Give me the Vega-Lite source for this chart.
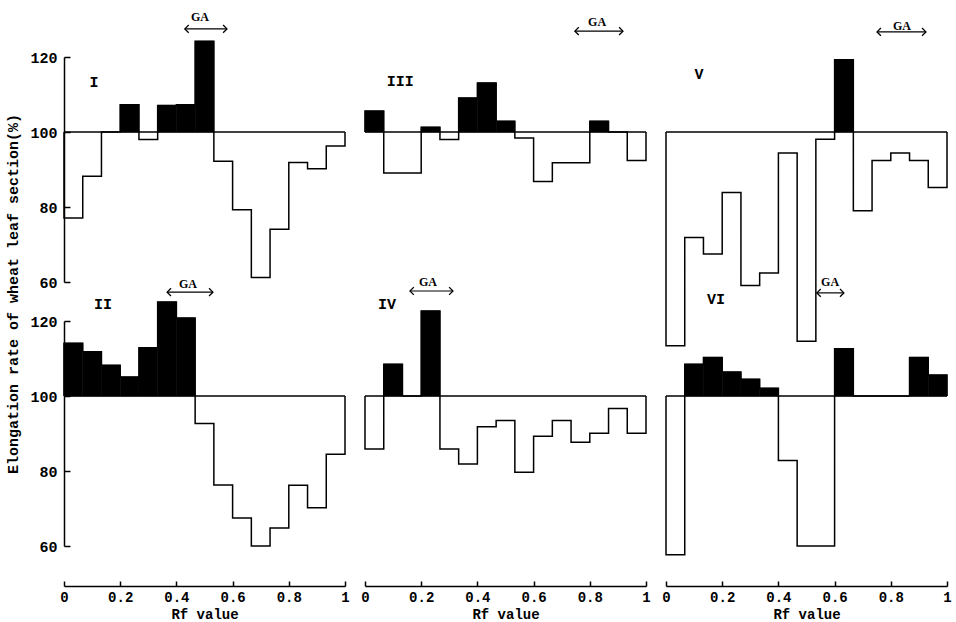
{
  "$schema": "https://vega.github.io/schema/vega-lite/v6.json",
  "background": "white",
  "padding": {"left": 5, "top": 10, "right": 5, "bottom": 0},
  "title": {"text": "Elongation rate of wheat leaf section(%)", "orient": "left", "anchor": "middle", "font": "Liberation Mono", "fontSize": 15, "fontWeight": "bold", "color": "black", "offset": 9, "dx": 22},
  "data": {"values": [
    {"t":"e","r":1,"c":1,"lo":0,"v":100,"i":0},
    {"t":"b","r":1,"c":1,"lo":0,"hi":0.0667,"v":77.1,"i":1},
    {"t":"b","r":1,"c":1,"lo":0.0667,"hi":0.1333,"v":88.2,"i":2},
    {"t":"b","r":1,"c":1,"lo":0.1333,"hi":0.2,"v":100,"i":3},
    {"t":"b","r":1,"c":1,"lo":0.2,"hi":0.2667,"v":107.3,"i":4},
    {"t":"b","r":1,"c":1,"lo":0.2667,"hi":0.3333,"v":98,"i":5},
    {"t":"b","r":1,"c":1,"lo":0.3333,"hi":0.4,"v":107.1,"i":6},
    {"t":"b","r":1,"c":1,"lo":0.4,"hi":0.4667,"v":107.3,"i":7},
    {"t":"b","r":1,"c":1,"lo":0.4667,"hi":0.5333,"v":124.2,"i":8},
    {"t":"b","r":1,"c":1,"lo":0.5333,"hi":0.6,"v":92.2,"i":9},
    {"t":"b","r":1,"c":1,"lo":0.6,"hi":0.6667,"v":79.3,"i":10},
    {"t":"b","r":1,"c":1,"lo":0.6667,"hi":0.7333,"v":61.2,"i":11},
    {"t":"b","r":1,"c":1,"lo":0.7333,"hi":0.8,"v":74.1,"i":12},
    {"t":"b","r":1,"c":1,"lo":0.8,"hi":0.8667,"v":91.9,"i":13},
    {"t":"b","r":1,"c":1,"lo":0.8667,"hi":0.9333,"v":90.2,"i":14},
    {"t":"b","r":1,"c":1,"lo":0.9333,"hi":1,"v":96.3,"i":15},
    {"t":"e","r":1,"c":1,"lo":1,"v":100,"i":16},

    {"t":"e","r":1,"c":2,"lo":0,"v":100,"i":0},
    {"t":"b","r":1,"c":2,"lo":0,"hi":0.0667,"v":105.6,"i":1},
    {"t":"b","r":1,"c":2,"lo":0.0667,"hi":0.1333,"v":89.1,"i":2},
    {"t":"b","r":1,"c":2,"lo":0.1333,"hi":0.2,"v":89.1,"i":3},
    {"t":"b","r":1,"c":2,"lo":0.2,"hi":0.2667,"v":101.3,"i":4},
    {"t":"b","r":1,"c":2,"lo":0.2667,"hi":0.3333,"v":98,"i":5},
    {"t":"b","r":1,"c":2,"lo":0.3333,"hi":0.4,"v":109.1,"i":6},
    {"t":"b","r":1,"c":2,"lo":0.4,"hi":0.4667,"v":113.1,"i":7},
    {"t":"b","r":1,"c":2,"lo":0.4667,"hi":0.5333,"v":102.9,"i":8},
    {"t":"b","r":1,"c":2,"lo":0.5333,"hi":0.6,"v":98.4,"i":9},
    {"t":"b","r":1,"c":2,"lo":0.6,"hi":0.6667,"v":86.8,"i":10},
    {"t":"b","r":1,"c":2,"lo":0.6667,"hi":0.7333,"v":91.8,"i":11},
    {"t":"b","r":1,"c":2,"lo":0.7333,"hi":0.8,"v":91.8,"i":12},
    {"t":"b","r":1,"c":2,"lo":0.8,"hi":0.8667,"v":102.9,"i":13},
    {"t":"b","r":1,"c":2,"lo":0.8667,"hi":0.9333,"v":100,"i":14},
    {"t":"b","r":1,"c":2,"lo":0.9333,"hi":1,"v":92.4,"i":15},
    {"t":"e","r":1,"c":2,"lo":1,"v":100,"i":16},

    {"t":"e","r":1,"c":3,"lo":0,"v":100,"i":0},
    {"t":"b","r":1,"c":3,"lo":0,"hi":0.0667,"v":43,"i":1},
    {"t":"b","r":1,"c":3,"lo":0.0667,"hi":0.1333,"v":71.9,"i":2},
    {"t":"b","r":1,"c":3,"lo":0.1333,"hi":0.2,"v":67.5,"i":3},
    {"t":"b","r":1,"c":3,"lo":0.2,"hi":0.2667,"v":83.9,"i":4},
    {"t":"b","r":1,"c":3,"lo":0.2667,"hi":0.3333,"v":59.1,"i":5},
    {"t":"b","r":1,"c":3,"lo":0.3333,"hi":0.4,"v":62.4,"i":6},
    {"t":"b","r":1,"c":3,"lo":0.4,"hi":0.4667,"v":94.4,"i":7},
    {"t":"b","r":1,"c":3,"lo":0.4667,"hi":0.5333,"v":44.2,"i":8},
    {"t":"b","r":1,"c":3,"lo":0.5333,"hi":0.6,"v":98.1,"i":9},
    {"t":"b","r":1,"c":3,"lo":0.6,"hi":0.6667,"v":119.3,"i":10},
    {"t":"b","r":1,"c":3,"lo":0.6667,"hi":0.7333,"v":79,"i":11},
    {"t":"b","r":1,"c":3,"lo":0.7333,"hi":0.8,"v":92.4,"i":12},
    {"t":"b","r":1,"c":3,"lo":0.8,"hi":0.8667,"v":94.4,"i":13},
    {"t":"b","r":1,"c":3,"lo":0.8667,"hi":0.9333,"v":92.4,"i":14},
    {"t":"b","r":1,"c":3,"lo":0.9333,"hi":1,"v":85.2,"i":15},
    {"t":"e","r":1,"c":3,"lo":1,"v":100,"i":16},

    {"t":"e","r":2,"c":1,"lo":0,"v":100,"i":0},
    {"t":"b","r":2,"c":1,"lo":0,"hi":0.0667,"v":114.1,"i":1},
    {"t":"b","r":2,"c":1,"lo":0.0667,"hi":0.1333,"v":111.8,"i":2},
    {"t":"b","r":2,"c":1,"lo":0.1333,"hi":0.2,"v":108.2,"i":3},
    {"t":"b","r":2,"c":1,"lo":0.2,"hi":0.2667,"v":105.1,"i":4},
    {"t":"b","r":2,"c":1,"lo":0.2667,"hi":0.3333,"v":112.9,"i":5},
    {"t":"b","r":2,"c":1,"lo":0.3333,"hi":0.4,"v":125.1,"i":6},
    {"t":"b","r":2,"c":1,"lo":0.4,"hi":0.4667,"v":120.8,"i":7},
    {"t":"b","r":2,"c":1,"lo":0.4667,"hi":0.5333,"v":92.7,"i":8},
    {"t":"b","r":2,"c":1,"lo":0.5333,"hi":0.6,"v":76.3,"i":9},
    {"t":"b","r":2,"c":1,"lo":0.6,"hi":0.6667,"v":67.5,"i":10},
    {"t":"b","r":2,"c":1,"lo":0.6667,"hi":0.7333,"v":60,"i":11},
    {"t":"b","r":2,"c":1,"lo":0.7333,"hi":0.8,"v":64.8,"i":12},
    {"t":"b","r":2,"c":1,"lo":0.8,"hi":0.8667,"v":76.2,"i":13},
    {"t":"b","r":2,"c":1,"lo":0.8667,"hi":0.9333,"v":70.2,"i":14},
    {"t":"b","r":2,"c":1,"lo":0.9333,"hi":1,"v":84.5,"i":15},
    {"t":"e","r":2,"c":1,"lo":1,"v":100,"i":16},

    {"t":"e","r":2,"c":2,"lo":0,"v":100,"i":0},
    {"t":"b","r":2,"c":2,"lo":0,"hi":0.0667,"v":85.9,"i":1},
    {"t":"b","r":2,"c":2,"lo":0.0667,"hi":0.1333,"v":108.5,"i":2},
    {"t":"b","r":2,"c":2,"lo":0.1333,"hi":0.2,"v":100,"i":3},
    {"t":"b","r":2,"c":2,"lo":0.2,"hi":0.2667,"v":122.7,"i":4},
    {"t":"b","r":2,"c":2,"lo":0.2667,"hi":0.3333,"v":85.9,"i":5},
    {"t":"b","r":2,"c":2,"lo":0.3333,"hi":0.4,"v":81.9,"i":6},
    {"t":"b","r":2,"c":2,"lo":0.4,"hi":0.4667,"v":91.8,"i":7},
    {"t":"b","r":2,"c":2,"lo":0.4667,"hi":0.5333,"v":93.5,"i":8},
    {"t":"b","r":2,"c":2,"lo":0.5333,"hi":0.6,"v":79.7,"i":9},
    {"t":"b","r":2,"c":2,"lo":0.6,"hi":0.6667,"v":89.3,"i":10},
    {"t":"b","r":2,"c":2,"lo":0.6667,"hi":0.7333,"v":93.5,"i":11},
    {"t":"b","r":2,"c":2,"lo":0.7333,"hi":0.8,"v":87.7,"i":12},
    {"t":"b","r":2,"c":2,"lo":0.8,"hi":0.8667,"v":90.1,"i":13},
    {"t":"b","r":2,"c":2,"lo":0.8667,"hi":0.9333,"v":96.7,"i":14},
    {"t":"b","r":2,"c":2,"lo":0.9333,"hi":1,"v":90.1,"i":15},
    {"t":"e","r":2,"c":2,"lo":1,"v":100,"i":16},

    {"t":"e","r":2,"c":3,"lo":0,"v":100,"i":0},
    {"t":"b","r":2,"c":3,"lo":0,"hi":0.0667,"v":57.7,"i":1},
    {"t":"b","r":2,"c":3,"lo":0.0667,"hi":0.1333,"v":108.5,"i":2},
    {"t":"b","r":2,"c":3,"lo":0.1333,"hi":0.2,"v":110.3,"i":3},
    {"t":"b","r":2,"c":3,"lo":0.2,"hi":0.2667,"v":106.4,"i":4},
    {"t":"b","r":2,"c":3,"lo":0.2667,"hi":0.3333,"v":104.5,"i":5},
    {"t":"b","r":2,"c":3,"lo":0.3333,"hi":0.4,"v":102.1,"i":6},
    {"t":"b","r":2,"c":3,"lo":0.4,"hi":0.4667,"v":82.8,"i":7},
    {"t":"b","r":2,"c":3,"lo":0.4667,"hi":0.5333,"v":60,"i":8},
    {"t":"b","r":2,"c":3,"lo":0.5333,"hi":0.6,"v":60,"i":9},
    {"t":"b","r":2,"c":3,"lo":0.6,"hi":0.6667,"v":112.6,"i":10},
    {"t":"b","r":2,"c":3,"lo":0.6667,"hi":0.7333,"v":100,"i":11},
    {"t":"b","r":2,"c":3,"lo":0.7333,"hi":0.8,"v":100,"i":12},
    {"t":"b","r":2,"c":3,"lo":0.8,"hi":0.8667,"v":100,"i":13},
    {"t":"b","r":2,"c":3,"lo":0.8667,"hi":0.9333,"v":110.3,"i":14},
    {"t":"b","r":2,"c":3,"lo":0.9333,"hi":1,"v":105.6,"i":15},
    {"t":"e","r":2,"c":3,"lo":1,"v":100,"i":16},

    {"t":"l","r":1,"c":1,"lo":0.107,"v":113.3,"lab":"I"},
    {"t":"l","r":1,"c":2,"lo":0.125,"v":113.6,"lab":"III"},
    {"t":"l","r":1,"c":3,"lo":0.117,"v":115.5,"lab":"V"},
    {"t":"l","r":2,"c":1,"lo":0.139,"v":124.5,"lab":"II"},
    {"t":"l","r":2,"c":2,"lo":0.078,"v":124.5,"lab":"IV"},
    {"t":"l","r":2,"c":3,"lo":0.178,"v":125.9,"lab":"VI"},

    {"t":"g","r":1,"c":1,"lo":0.43,"hi":0.58,"v":127.5},
    {"t":"g","r":1,"c":2,"lo":0.747,"hi":0.918,"v":126.9},
    {"t":"g","r":1,"c":3,"lo":0.751,"hi":0.925,"v":126.7},
    {"t":"g","r":2,"c":1,"lo":0.367,"hi":0.53,"v":127.7},
    {"t":"g","r":2,"c":2,"lo":0.16,"hi":0.313,"v":128},
    {"t":"g","r":2,"c":3,"lo":0.537,"hi":0.633,"v":127.5},

    {"t":"gt","r":1,"c":1,"lo":0.484,"v":130.7,"lab":"GA"},
    {"t":"gt","r":1,"c":2,"lo":0.826,"v":129.3,"lab":"GA"},
    {"t":"gt","r":1,"c":3,"lo":0.84,"v":128.3,"lab":"GA"},
    {"t":"gt","r":2,"c":1,"lo":0.441,"v":129.9,"lab":"GA"},
    {"t":"gt","r":2,"c":2,"lo":0.224,"v":130.4,"lab":"GA"},
    {"t":"gt","r":2,"c":3,"lo":0.584,"v":130.4,"lab":"GA"}
  ]},
  "facet": {
    "row": {"field": "r", "type": "ordinal", "header": null},
    "column": {"field": "c", "type": "ordinal", "header": null}
  },
  "spacing": {"row": 39, "column": 20},
  "bounds": "flush",
  "spec": {
    "width": 281,
    "height": 225,
    "layer": [
      {
        "transform": [{"filter": "datum.t == 'b' && datum.v > 100"}],
        "mark": {"type": "rect", "fill": "black", "stroke": "black", "strokeWidth": 0.6, "clip": false},
        "encoding": {
          "x": {"field": "lo", "type": "quantitative", "scale": {"domain": [0, 1], "nice": false},
            "axis": {"values": [0, 0.2, 0.4, 0.6, 0.8, 1], "labelExpr": "datum.value == 0 ? '0' : datum.value == 1 ? '1' : format(datum.value, '.1f')", "offset": 40, "tickSize": -5, "labelPadding": 9, "labelFlush": false, "domainWidth": 1.5, "tickWidth": 1.5, "title": "Rf value", "titlePadding": 3, "labelFont": "Liberation Mono", "labelFontSize": 14, "labelFontWeight": "bold", "titleFont": "Liberation Mono", "titleFontSize": 14, "titleFontWeight": "bold"}},
          "x2": {"field": "hi"},
          "y": {"field": "v", "type": "quantitative", "scale": {"domain": [60, 120], "nice": false, "zero": false},
            "axis": {"values": [60, 80, 100, 120], "tickSize": -6, "labelPadding": 13, "domainWidth": 1.5, "tickWidth": 1.5, "title": null, "labelFont": "Liberation Mono", "labelFontSize": 15, "labelFontWeight": "bold"}},
          "y2": {"datum": 100}
        }
      },
      {
        "transform": [{"filter": "datum.t == 'l'"}],
        "mark": {"type": "rule", "color": "black", "strokeWidth": 1.5, "clip": false},
        "encoding": {
          "x": {"datum": 0, "type": "quantitative"},
          "x2": {"datum": 1},
          "y": {"datum": 100, "type": "quantitative"}
        }
      },
      {
        "transform": [{"filter": "datum.t == 'b' || datum.t == 'e'"}],
        "mark": {"type": "line", "interpolate": "step-after", "color": "black", "strokeWidth": 1.5, "clip": false},
        "encoding": {
          "x": {"field": "lo", "type": "quantitative", "title": "Rf value"},
          "y": {"field": "v", "type": "quantitative", "title": null},
          "order": {"field": "i", "type": "quantitative"}
        }
      },
      {
        "transform": [{"filter": "datum.t == 'g'"}],
        "mark": {"type": "rule", "color": "black", "strokeWidth": 1.2, "clip": false},
        "encoding": {
          "x": {"field": "lo", "type": "quantitative", "title": "Rf value"},
          "x2": {"field": "hi"},
          "y": {"field": "v", "type": "quantitative", "title": null}
        }
      },
      {
        "transform": [{"filter": "datum.t == 'g'"}],
        "mark": {"type": "point", "shape": "M1,-1L0,0L1,1", "filled": false, "stroke": "black", "strokeWidth": 1.3, "size": 60, "opacity": 1, "clip": false},
        "encoding": {
          "x": {"field": "lo", "type": "quantitative", "title": "Rf value"},
          "y": {"field": "v", "type": "quantitative", "title": null}
        }
      },
      {
        "transform": [{"filter": "datum.t == 'g'"}],
        "mark": {"type": "point", "shape": "M-1,-1L0,0L-1,1", "filled": false, "stroke": "black", "strokeWidth": 1.3, "size": 60, "opacity": 1, "clip": false},
        "encoding": {
          "x": {"field": "hi", "type": "quantitative", "title": "Rf value"},
          "y": {"field": "v", "type": "quantitative", "title": null}
        }
      },
      {
        "transform": [{"filter": "datum.t == 'gt'"}],
        "mark": {"type": "text", "font": "Liberation Serif", "fontSize": 12, "fontWeight": "bold", "color": "black", "align": "center", "baseline": "middle", "clip": false},
        "encoding": {
          "x": {"field": "lo", "type": "quantitative", "title": "Rf value"},
          "y": {"field": "v", "type": "quantitative", "title": null},
          "text": {"field": "lab"}
        }
      },
      {
        "transform": [{"filter": "datum.t == 'l'"}],
        "mark": {"type": "text", "font": "Liberation Mono", "fontSize": 15, "fontWeight": "bold", "color": "black", "align": "center", "baseline": "middle", "clip": false},
        "encoding": {
          "x": {"field": "lo", "type": "quantitative", "title": "Rf value"},
          "y": {"field": "v", "type": "quantitative", "title": null},
          "text": {"field": "lab"}
        }
      }
    ]
  },
  "config": {
    "view": {"stroke": null},
    "axis": {"domainColor": "black", "tickColor": "black", "labelColor": "black", "titleColor": "black", "grid": false}
  }
}
